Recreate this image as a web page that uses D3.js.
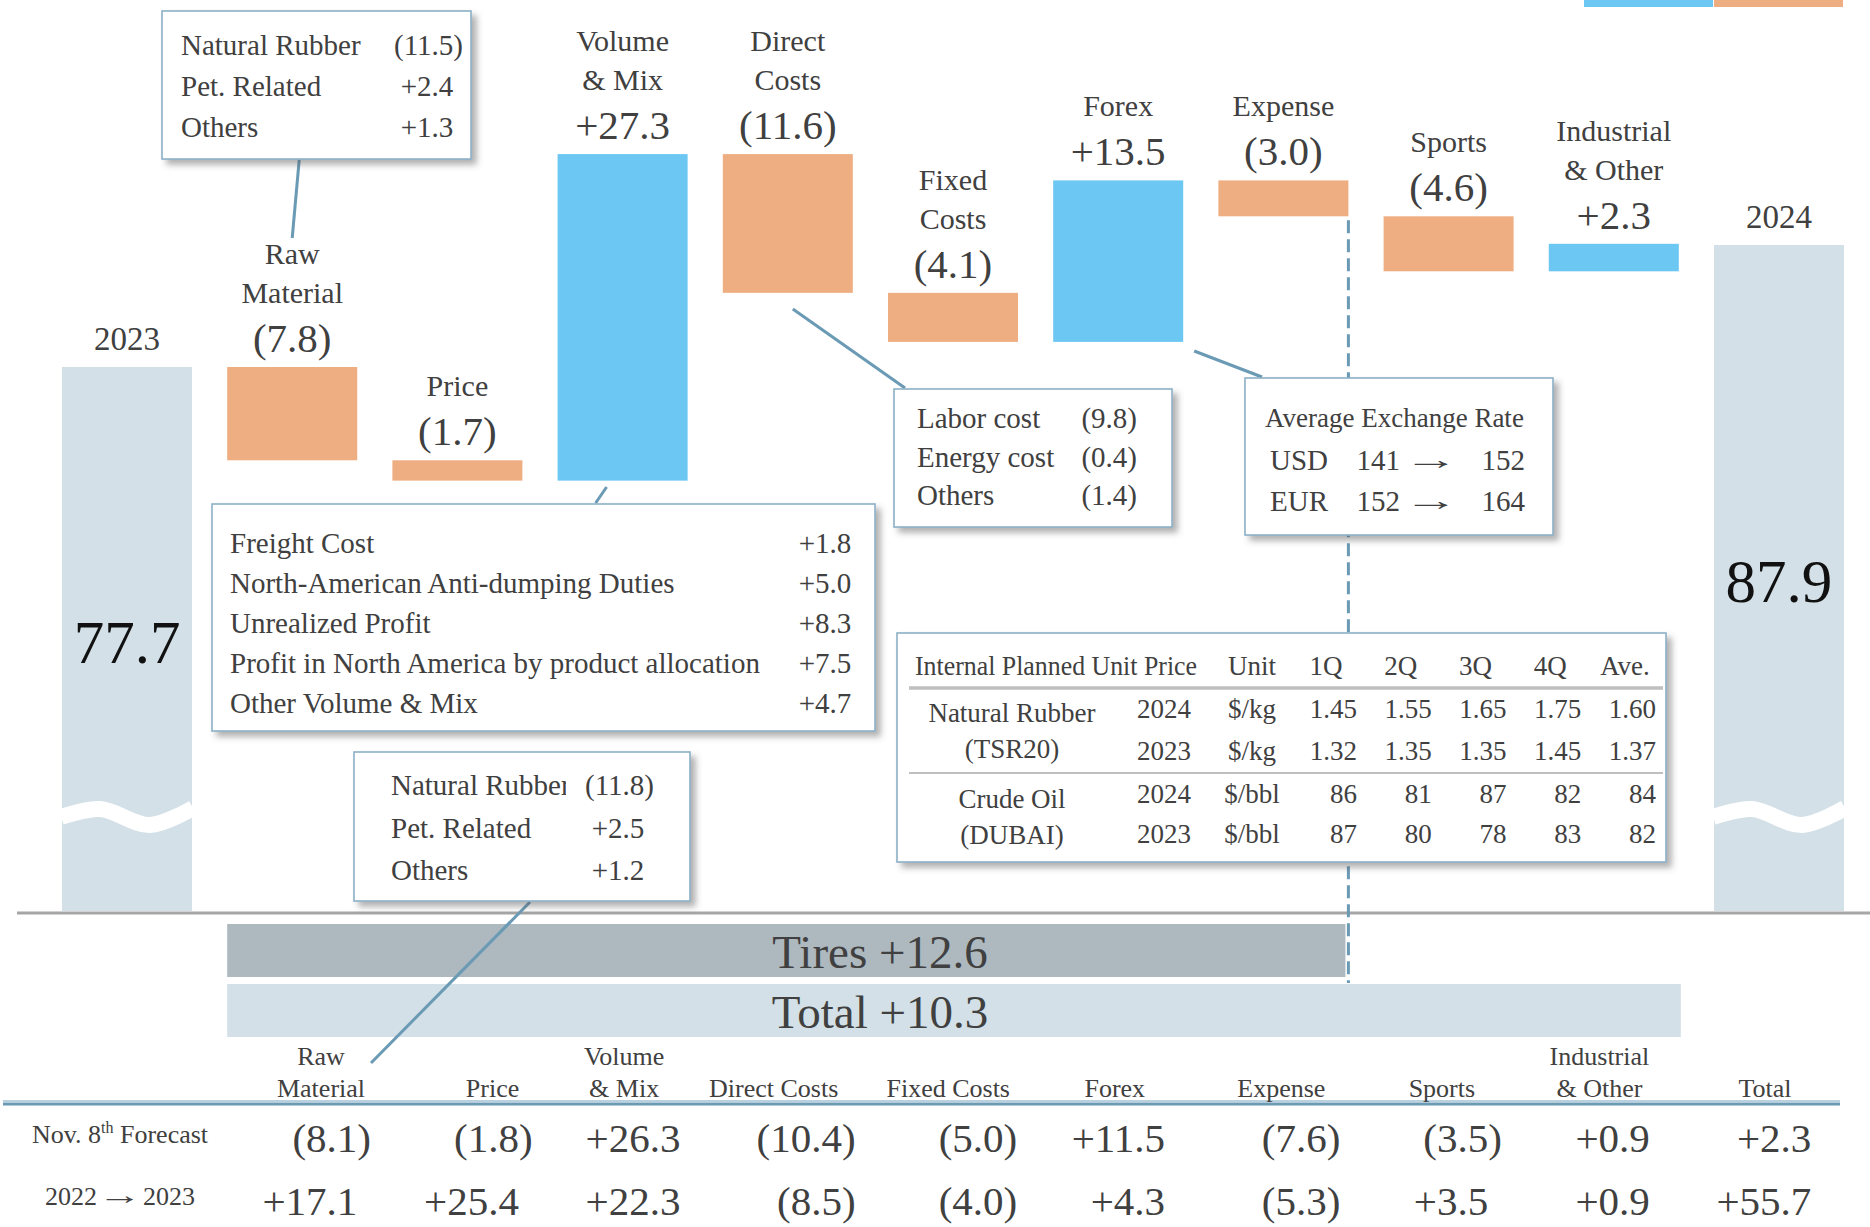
<!DOCTYPE html>
<html>
<head>
<meta charset="utf-8">
<script src="https://cdn.jsdelivr.net/npm/d3@7"></script>
<style>
  body { margin: 0; background: #fff; }
  svg { display: block; font-family: "Liberation Serif", "Times New Roman", serif; }
</style>
</head>
<body>
<svg id="chart" width="1870" height="1227"></svg>
<script>
// ---- data ----
var startLabel = "2023", startValue = 77.7;
var endLabel = "2024", endValue = 87.9;
var stepLabels = [["Raw", "Material"], ["Price"], ["Volume", "& Mix"], ["Direct", "Costs"], ["Fixed", "Costs"],
                  ["Forex"], ["Expense"], ["Sports"], ["Industrial", "& Other"]];
var stepValues = [-7.8, -1.7, 27.3, -11.6, -4.1, 13.5, -3.0, -4.6, 2.3];
var tiresDelta = 12.6, totalDelta = 10.3;

var compHeaders = [["Raw", "Material"], ["Price"], ["Volume", "& Mix"], ["Direct Costs"], ["Fixed Costs"],
                   ["Forex"], ["Expense"], ["Sports"], ["Industrial", "& Other"], ["Total"]];
var forecastValues = [-8.1, -1.8, 26.3, -10.4, -5.0, 11.5, -7.6, -3.5, 0.9, 2.3];
var prevYearValues = [17.1, 25.4, 22.3, -8.5, -4.0, 4.3, -5.3, 3.5, 0.9, 55.7];

var rawMatItems = [["Natural Rubber", -11.5], ["Pet. Related", 2.4], ["Others", 1.3]];
var volumeMixItems = [["Freight Cost", 1.8], ["North-American Anti-dumping Duties", 5.0], ["Unrealized Profit", 8.3],
                      ["Profit in North America by product allocation", 7.5], ["Other Volume & Mix", 4.7]];
var forecastRawItems = [["Natural Rubber", -11.8], ["Pet. Related", 2.5], ["Others", 1.2]];
var directCostItems = [["Labor cost", -9.8], ["Energy cost", -0.4], ["Others", -1.4]];

var fxCurrencies = ["USD", "EUR"];
var fxFrom = [141, 152];
var fxTo = [152, 164];

var priceColumns = ["1Q", "2Q", "3Q", "4Q", "Ave."];
var priceRows = [
  {item: "Natural Rubber", year: "2024", unit: "$/kg", vals: [1.45, 1.55, 1.65, 1.75, 1.60]},
  {item: "(TSR20)", year: "2023", unit: "$/kg", vals: [1.32, 1.35, 1.35, 1.45, 1.37]},
  {item: "Crude Oil", year: "2024", unit: "$/bbl", vals: [86, 81, 87, 82, 84]},
  {item: "(DUBAI)", year: "2023", unit: "$/bbl", vals: [87, 80, 78, 83, 82]}
];

// ---- style / layout ----
var col = {
  up: "#6CC7F3", down: "#EEAE82", total: "#D3E0E7", tires: "#AEB8BF",
  text: "#404040", link: "#6B9AB5", border: "#8DB0C7", rule: "#A6A6A6", grid: "#BFBFBF"
};
// header labels of the bottom table are not evenly spaced
var headerNudge = [10, 20, -10, -22, -9, -4, 1, 0, -4, 0];

var svg = d3.select("#chart");
var defs = svg.append("defs");
defs.append("filter").attr("id", "shadow")
  .attr("x", "-5%").attr("y", "-5%").attr("width", "115%").attr("height", "125%")
  .append("feDropShadow")
  .attr("dx", 5).attr("dy", 5).attr("stdDeviation", 3)
  .attr("flood-color", "#555").attr("flood-opacity", 0.45);

// accounting style number: (x.x) for negatives, +x.x with a hidden ")" for positives
function acct(sel, v, digits) {
  digits = digits == null ? 1 : digits;
  sel.text(v < 0 ? "(" + Math.abs(v).toFixed(digits) + ")" : "+" + v.toFixed(digits));
  if (v >= 0) sel.append("tspan").attr("fill-opacity", 0).text(")");
  return sel;
}

// long thin arrow: the font's glyph stretched sideways
function arrow(g, cx, by, size, stretch) {
  g.append("text").attr("transform", "translate(" + cx + "," + by + ") scale(" + stretch + ",1)")
    .attr("text-anchor", "middle").attr("font-size", size).text("\u2192");
}

// ---- scales ----
var n = stepValues.length + 2;
var x = d3.scaleBand().domain(d3.range(n)).range([62, 1844]).paddingInner(0.213);
var bw = x.bandwidth();
var y = d3.scaleLinear().domain([startValue, endValue]).range([367, 245]);
var baseY = 912;

var run = startValue;
var steps = stepValues.map(function(v, k) {
  var from = run;
  run = +(run + v).toFixed(1);
  return {i: k + 1, v: v, from: from, to: run, lines: stepLabels[k]};
});
var totals = [{i: 0, v: startValue, label: startLabel}, {i: n - 1, v: endValue, label: endLabel}];

// top-right legend remnants
svg.append("rect").attr("x", 1584).attr("y", 0).attr("width", 129).attr("height", 7).attr("fill", col.up);
svg.append("rect").attr("x", 1714).attr("y", 0).attr("width", 129).attr("height", 7).attr("fill", col.down);

// ---- total bars with break wave ----
var gTot = svg.append("g");
gTot.selectAll("rect").data(totals).enter().append("rect")
  .attr("x", function(d) { return x(d.i); })
  .attr("y", function(d) { return y(d.v); })
  .attr("width", bw)
  .attr("height", function(d) { return baseY - 1 - y(d.v); })
  .attr("fill", col.total);

var wave = d3.line().curve(d3.curveCatmullRom);
gTot.selectAll("path.wave").data(totals).enter().append("path")
  .attr("class", "wave")
  .attr("d", function(d) {
    var x0 = x(d.i);
    return wave([[x0 - 1, 817], [x0 + 38, 809], [x0 + 88, 825], [x0 + bw + 1, 808]]);
  })
  .attr("fill", "none").attr("stroke", "#fff").attr("stroke-width", 16);

gTot.selectAll("text.year").data(totals).enter().append("text")
  .attr("x", function(d) { return x(d.i) + bw / 2; })
  .attr("y", function(d) { return y(d.v) - 17; })
  .attr("text-anchor", "middle").attr("font-size", 33).attr("fill", col.text)
  .text(function(d) { return d.label; });

gTot.selectAll("text.big").data(totals).enter().append("text")
  .attr("x", function(d) { return x(d.i) + bw / 2; })
  .attr("y", function(d) { return (y(d.v) + 917) / 2 + 21; })
  .attr("text-anchor", "middle").attr("font-size", 61).attr("fill", "#111")
  .text(function(d) { return d.v.toFixed(1); });

// ---- step bars ----
var gSteps = svg.append("g");
gSteps.selectAll("rect").data(steps).enter().append("rect")
  .attr("x", function(d) { return x(d.i); })
  .attr("y", function(d) { return y(Math.max(d.from, d.to)); })
  .attr("width", bw)
  .attr("height", function(d) { return Math.abs(y(d.from) - y(d.to)); })
  .attr("fill", function(d) { return d.v >= 0 ? col.up : col.down; });

steps.forEach(function(d) {
  var cx = x(d.i) + bw / 2;
  var vy = y(Math.max(d.from, d.to)) - 15;
  acct(gSteps.append("text").attr("x", cx).attr("y", vy)
    .attr("text-anchor", "middle").attr("font-size", 41).attr("fill", col.text), d.v)
    .select("tspan").remove();
  d.lines.forEach(function(t, j) {
    gSteps.append("text")
      .attr("x", cx)
      .attr("y", vy - 49 - (d.lines.length - 1 - j) * 39)
      .attr("text-anchor", "middle").attr("font-size", 30).attr("fill", col.text)
      .text(t);
  });
});

// baseline
svg.append("line").attr("x1", 17).attr("x2", 1870).attr("y1", baseY + 1).attr("y2", baseY + 1)
  .attr("stroke", col.rule).attr("stroke-width", 3);

// ---- Tires / Total summary bars ----
var tiresX1 = x(7) + bw - 3, totalX1 = x(9) + bw + 2;
svg.append("rect").attr("x", x(1)).attr("y", 924).attr("width", tiresX1 - x(1)).attr("height", 53).attr("fill", col.tires);
svg.append("rect").attr("x", x(1)).attr("y", 984).attr("width", totalX1 - x(1)).attr("height", 53).attr("fill", col.total);
svg.append("text").attr("x", 880).attr("y", 968).attr("text-anchor", "middle")
  .attr("font-size", 47).attr("fill", col.text).text("Tires +" + tiresDelta.toFixed(1));
svg.append("text").attr("x", 880).attr("y", 1028).attr("text-anchor", "middle")
  .attr("font-size", 47).attr("fill", col.text).text("Total +" + totalDelta.toFixed(1));

// dashed divider at the right edge of Expense
var divX = x(7) + bw;
svg.append("line").attr("x1", divX).attr("x2", divX)
  .attr("y1", y(Math.min(steps[6].from, steps[6].to)) + 4).attr("y2", 983)
  .attr("stroke", col.link).attr("stroke-width", 3).attr("stroke-dasharray", "13,6");

// ---- connectors ----
var links = [
  [[x(1) + bw / 2 + 7, 160], [x(1) + bw / 2, 238]],
  [[x(3) + bw / 2 - 16, 487], [x(3) + bw / 2 - 27, 503]],
  [[x(4) + bw / 2 + 5, 309], [905, 388]],
  [[x(6) + bw + 11, 351], [1262, 377]],
  [[530, 902], [371, 1063]]
];
svg.append("g").selectAll("line").data(links).enter().append("line")
  .attr("x1", function(d) { return d[0][0]; }).attr("y1", function(d) { return d[0][1]; })
  .attr("x2", function(d) { return d[1][0]; }).attr("y2", function(d) { return d[1][1]; })
  .attr("stroke", col.link).attr("stroke-width", 3);

// ---- annotation boxes ----
function frame(bx, by, w, h) {
  svg.append("rect").attr("x", bx).attr("y", by).attr("width", w).attr("height", h)
    .attr("fill", "#fff").attr("stroke", col.border).attr("stroke-width", 1.6)
    .attr("filter", "url(#shadow)");
}

function listBox(items, o) {
  frame(o.x, o.y, o.w, o.h);
  var g = svg.append("g").attr("font-size", o.size).attr("fill", col.text);
  var lab = g;
  if (o.clipAt) {
    var id = "clip" + o.x;
    defs.append("clipPath").attr("id", id).append("rect")
      .attr("x", o.x).attr("y", o.y).attr("width", o.clipAt - o.x).attr("height", o.h);
    lab = g.append("g").attr("clip-path", "url(#" + id + ")");
  }
  items.forEach(function(it, k) {
    var by = o.first + k * o.step;
    lab.append("text").attr("x", o.labelX).attr("y", by).text(it[0]);
    acct(g.append("text").attr("x", o.valueRight).attr("y", by).attr("text-anchor", "end"), it[1]);
  });
}

listBox(rawMatItems, {x: 162, y: 11, w: 309, h: 148, labelX: 181, valueRight: 463, first: 55, step: 41, size: 29});
listBox(volumeMixItems, {x: 212, y: 504, w: 663, h: 227, labelX: 230, valueRight: 861, first: 553, step: 40, size: 29});
listBox(forecastRawItems, {x: 354, y: 752, w: 336, h: 149, labelX: 391, valueRight: 654, first: 795, step: 42.5, size: 29, clipAt: 566});
listBox(directCostItems, {x: 894, y: 389, w: 278, h: 138, labelX: 917, valueRight: 1137, first: 428, step: 38.7, size: 29});

// exchange rate box
frame(1245, 378, 308, 157);
var gFx = svg.append("g").attr("fill", col.text);
gFx.append("text").attr("x", 1265).attr("y", 427).attr("font-size", 27).text("Average Exchange Rate");
fxCurrencies.forEach(function(c, k) {
  var by = 470 + k * 41;
  gFx.append("text").attr("x", 1270).attr("y", by).attr("font-size", 29).text(c);
  gFx.append("text").attr("x", 1400).attr("y", by).attr("font-size", 29).attr("text-anchor", "end").text(fxFrom[k]);
  arrow(gFx, 1431, by - 1, 29, 1.9);
  gFx.append("text").attr("x", 1525).attr("y", by).attr("font-size", 29).attr("text-anchor", "end").text(fxTo[k]);
});

// internal planned unit price table
frame(897, 633, 769, 229);
var qRight = d3.scaleLinear().domain([0, priceColumns.length - 1]).range([1357, 1656]);
var gT = svg.append("g").attr("fill", col.text).attr("font-size", 27);
gT.append("text").attr("x", 915).attr("y", 675).attr("textLength", 282).attr("lengthAdjust", "spacingAndGlyphs")
  .text("Internal Planned Unit Price");
gT.append("text").attr("x", 1252).attr("y", 675).attr("text-anchor", "middle").text("Unit");
priceColumns.forEach(function(c, k) {
  gT.append("text").attr("x", qRight(k) - 31).attr("y", 675).attr("text-anchor", "middle").text(c);
});
gT.append("line").attr("x1", 909).attr("x2", 1663).attr("y1", 688).attr("y2", 688)
  .attr("stroke", col.grid).attr("stroke-width", 3.5);
gT.append("line").attr("x1", 909).attr("x2", 1663).attr("y1", 773).attr("y2", 773)
  .attr("stroke", col.grid).attr("stroke-width", 2);
var rowY = [718, 760, 803, 843], itemY = [722, 758, 808, 844];
priceRows.forEach(function(r, k) {
  gT.append("text").attr("x", 1012).attr("y", itemY[k]).attr("text-anchor", "middle").text(r.item);
  gT.append("text").attr("x", 1164).attr("y", rowY[k]).attr("text-anchor", "middle").text(r.year);
  gT.append("text").attr("x", 1252).attr("y", rowY[k]).attr("text-anchor", "middle").text(r.unit);
  r.vals.forEach(function(v, j) {
    gT.append("text").attr("x", qRight(j)).attr("y", rowY[k]).attr("text-anchor", "end")
      .text(v < 10 ? v.toFixed(2) : v.toFixed(0));
  });
});

// ---- comparison table at the bottom ----
var colRight = d3.scaleLinear().domain([0, compHeaders.length - 1]).range([371, 1825]);
var gB = svg.append("g").attr("fill", col.text);
gB.append("line").attr("x1", 3).attr("x2", 1840).attr("y1", 1101).attr("y2", 1101)
  .attr("stroke", "#B9D0DE").attr("stroke-width", 2);
gB.append("line").attr("x1", 3).attr("x2", 1840).attr("y1", 1104).attr("y2", 1104)
  .attr("stroke", col.link).attr("stroke-width", 3);
compHeaders.forEach(function(h, k) {
  h.forEach(function(t, j) {
    gB.append("text").attr("x", colRight(k) - 60 + headerNudge[k]).attr("y", 1097 - (h.length - 1 - j) * 32)
      .attr("text-anchor", "middle").attr("font-size", 26).text(t);
  });
  acct(gB.append("text").attr("x", colRight(k)).attr("y", 1152).attr("text-anchor", "end").attr("font-size", 41), forecastValues[k]);
  acct(gB.append("text").attr("x", colRight(k)).attr("y", 1215).attr("text-anchor", "end").attr("font-size", 41), prevYearValues[k]);
});
var nov = gB.append("text").attr("x", 120).attr("y", 1143).attr("text-anchor", "middle").attr("font-size", 26);
nov.append("tspan").text("Nov. 8");
nov.append("tspan").attr("dy", -10).attr("font-size", 16).text("th");
nov.append("tspan").attr("dy", 10).text(" Forecast");
gB.append("text").attr("x", 97).attr("y", 1205).attr("text-anchor", "end").attr("font-size", 26).text("2022");
arrow(gB, 120, 1204, 26, 1.7);
gB.append("text").attr("x", 143).attr("y", 1205).attr("font-size", 26).text("2023");
</script>
</body>
</html>
